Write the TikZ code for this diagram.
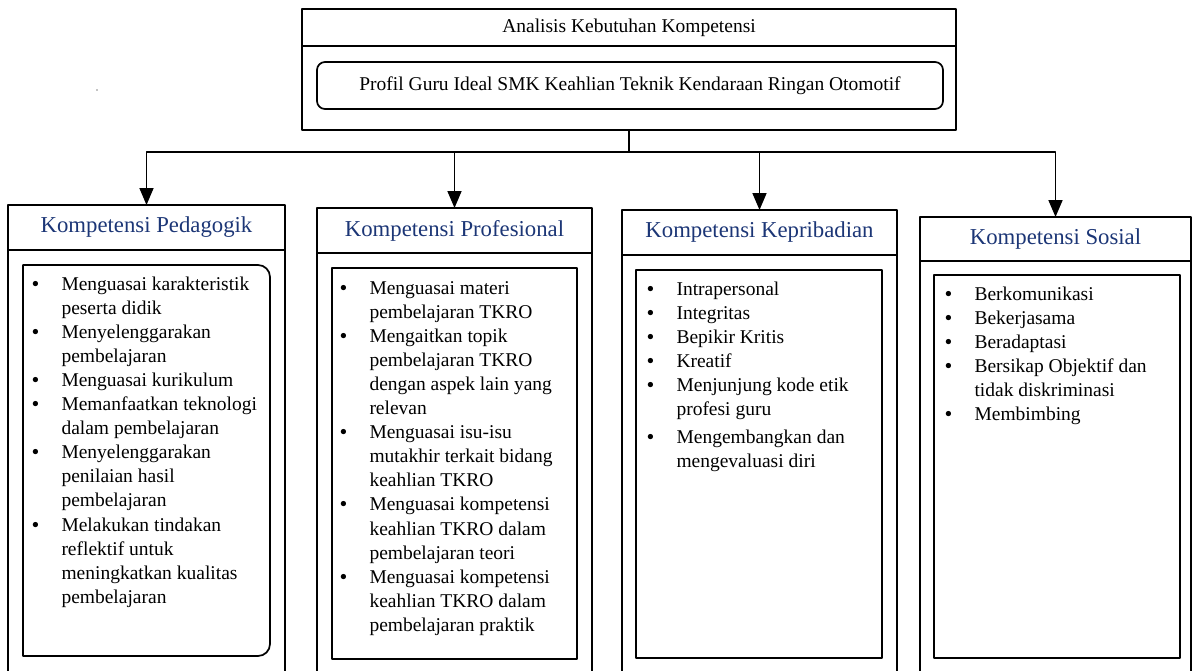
\documentclass[tikz,border=0pt]{standalone}
\usepackage{fontspec}
\setmainfont{Liberation Serif}
\usetikzlibrary{arrows.meta}
\definecolor{hdblue}{RGB}{28,54,118}
\newcommand{\bitem}{\makebox[29.5pt][l]{\bfseries •}}
\newcommand{\bcont}{\hspace*{29.5pt}}
\tikzset{
  ln/.style={line width=1.7pt, line join=round, line cap=round},
  boxnode/.style={ln, draw, rectangle, inner sep=0pt, outer sep=0pt},
  hdr/.style={boxnode, font=\fontsize{22.75}{27}\selectfont, text=hdblue},
  topt/.style={font=\fontsize{19.5}{24}\selectfont},
  conn/.style={ln, -{Triangle[width=14pt,length=17pt]}},
  listnode/.style={anchor=base west, inner sep=0pt, outer sep=0pt, font=\fontsize{19.5}{24.1}\selectfont},
  ghost/.style={rectangle, inner sep=0pt, outer sep=0pt},
}
\begin{document}
\begin{tikzpicture}[x=1pt, y=-1pt]
\useasboundingbox (0,0) rectangle (1193,670);
\coordinate (bot) at (0,676);

% top box
\node[boxnode, topt, minimum width=654pt, minimum height=37pt] (toph) at (629,27.5) {Analisis Kebutuhan Kompetensi};
\node[boxnode, minimum width=654pt, minimum height=84pt] (topb) at (629,88) {};
\node[boxnode, topt, rounded corners=8pt, minimum width=626pt, minimum height=47pt] (prof) at (630,85.5) {Profil Guru Ideal SMK Keahlian Teknik Kendaraan Ringan Otomotif};

% stray dot
\fill (97,90) circle (0.6pt);

% column headers
\node[hdr, minimum width=277pt, minimum height=45pt] (h1) at (146.5,227.5) {Kompetensi Pedagogik};
\node[hdr, minimum width=275pt, minimum height=45pt] (h2) at (454.5,230.5) {Kompetensi Profesional};
\node[hdr, minimum width=275pt, minimum height=45pt] (h3) at (759.5,232.5) {Kompetensi Kepribadian};
\node[hdr, minimum width=271pt, minimum height=44pt] (h4) at (1055.5,239) {Kompetensi Sosial};

% column body sides
\foreach \h in {h1,h2,h3,h4}{
  \draw[ln] (\h.south west) -- (\h.south west |- bot);
  \draw[ln] (\h.south east) -- (\h.south east |- bot);
}

% connectors
\draw[ln] (topb.south) -- ++(0,22) coordinate (j);
\draw[conn] (j) -| (h1.north);
\draw[conn] (j) -| (h2.north);
\draw[conn] (j) -| (h3.north);
\draw[conn] (j) -| (h4.north);

% inner boxes
\node[ghost, minimum width=247pt, minimum height=391pt] (i1) at (146.5,460.5) {};
\draw[ln] (i1.south west) -- (i1.north west) [rounded corners=12pt] -- (i1.north east) -- (i1.south east) -- (i1.south west);
\node[boxnode, minimum width=245pt, minimum height=391pt] (i2) at (454.5,463.5) {};
\node[boxnode, minimum width=246pt, minimum height=388pt] (i3) at (759,464) {};
\node[boxnode, minimum width=246pt, minimum height=383pt] (i4) at (1057,466.5) {};

% lists
\node[listnode] (l1) at (32,290) {\begin{tabular}[t]{@{}l@{}}
\bitem Menguasai karakteristik\\
\bcont peserta didik\\
\bitem Menyelenggarakan\\
\bcont pembelajaran\\
\bitem Menguasai kurikulum\\
\bitem Memanfaatkan teknologi\\
\bcont dalam pembelajaran\\
\bitem Menyelenggarakan\\
\bcont penilaian hasil\\
\bcont pembelajaran\\
\bitem Melakukan tindakan\\
\bcont reflektif untuk\\
\bcont meningkatkan kualitas\\
\bcont pembelajaran
\end{tabular}};

\node[listnode] (l2) at (340,294) {\begin{tabular}[t]{@{}l@{}}
\bitem Menguasai materi\\
\bcont pembelajaran TKRO\\
\bitem Mengaitkan topik\\
\bcont pembelajaran TKRO\\
\bcont dengan aspek lain yang\\
\bcont relevan\\
\bitem Menguasai isu-isu\\
\bcont mutakhir terkait bidang\\
\bcont keahlian TKRO\\
\bitem Menguasai kompetensi\\
\bcont keahlian TKRO dalam\\
\bcont pembelajaran teori\\
\bitem Menguasai kompetensi\\
\bcont keahlian TKRO dalam\\
\bcont pembelajaran praktik
\end{tabular}};

\node[listnode] (l3) at (647,295) {\begin{tabular}[t]{@{}l@{}}
\bitem Intrapersonal\\
\bitem Integritas\\
\bitem Bepikir Kritis\\
\bitem Kreatif\\
\bitem Menjunjung kode etik\\
\bcont profesi guru\\[4pt]
\bitem Mengembangkan dan\\
\bcont mengevaluasi diri
\end{tabular}};

\node[listnode] (l4) at (945,300) {\begin{tabular}[t]{@{}l@{}}
\bitem Berkomunikasi\\
\bitem Bekerjasama\\
\bitem Beradaptasi\\
\bitem Bersikap Objektif dan\\
\bcont tidak diskriminasi\\
\bitem Membimbing
\end{tabular}};
\end{tikzpicture}
\end{document}
